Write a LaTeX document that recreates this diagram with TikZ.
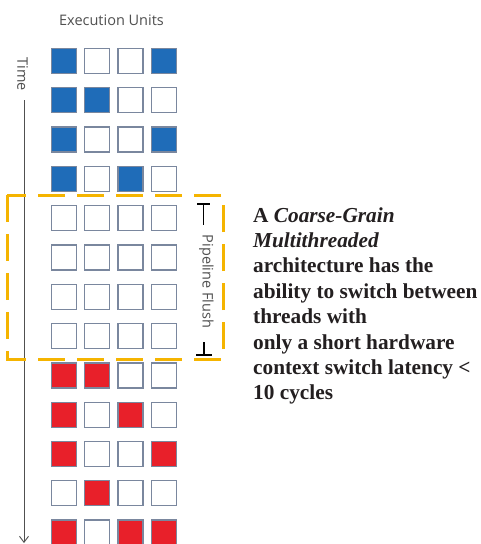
\documentclass[tikz,border=0pt]{standalone}
\usepackage{fontspec}
\setmainfont{Liberation Serif}
\newfontfamily\uifont{Open Sans}
\usetikzlibrary{arrows.meta}
\definecolor{cellblue}{HTML}{1F6CB8}
\definecolor{cellred}{HTML}{E8202A}
\definecolor{cellline}{HTML}{7A879E}
\definecolor{flushorange}{HTML}{F5B400}
\definecolor{labelgray}{HTML}{505050}
\definecolor{bodytext}{HTML}{231F20}
\begin{document}
\begin{tikzpicture}[x=1pt,y=-1pt,
  cell/.style={draw=cellline, line width=1.3pt, minimum size=25pt, inner sep=0pt},
  ui/.style={font=\uifont\fontsize{14.5}{17}\selectfont, text=labelgray, inner sep=0pt},
  body/.style={font=\fontsize{21.3}{25}\selectfont\bfseries, text=bodytext, anchor=base west, inner sep=0pt},
  bracket/.style={draw=black, line width=1.5pt},
  timeline/.style={draw=labelgray, line width=0.9pt, -{Straight Barb[length=6pt,width=9pt]}},
  flushbox/.style={draw=flushorange, line width=3pt, dash pattern=on 27pt off 12pt}]
\fill[white] (0,0) rectangle (481,544);
\clip (0,0) rectangle (481,544);
% title
\node[ui, anchor=base] (eu) at (111.5,25.7) {Execution Units};
% time axis
\node[ui, rotate=-90] (time) at (22.5,74) {Time};
\coordinate (tstart) at (24,100);
\coordinate (tend) at (24,543);
\draw[timeline] (tstart) -- (tend);
% cells
\foreach \r/\a/\b/\c/\d in {
  0/cellblue/white/white/cellblue,
  1/cellblue/cellblue/white/white,
  2/cellblue/white/white/cellblue,
  3/cellblue/white/cellblue/white,
  4/white/white/white/white,
  5/white/white/white/white,
  6/white/white/white/white,
  7/white/white/white/white,
  8/cellred/cellred/white/white,
  9/cellred/white/cellred/white,
  10/cellred/white/white/cellred,
  11/white/cellred/white/white,
  12/cellred/white/cellred/cellred}{
  \foreach \col/\f in {0/\a,1/\b,2/\c,3/\d}{
    \node[cell, fill=\f] (c\r-\col) at ({63.7+33.33*\col},{61+39.3*\r}) {};
  }
}
% pipeline flush box
\draw[flushbox] (7,195) rectangle (223,359);
% bracket
\coordinate (tl) at (197,204);
\coordinate (tr) at (210,204);
\coordinate (ts) at (203.5,204);
\coordinate (te) at (203.5,225);
\coordinate (bs) at (204,342);
\coordinate (be) at (204,355);
\coordinate (bl) at (196,355);
\coordinate (br) at (212,355);
\draw[bracket] (tl) -- (tr) (ts) -- (te);
\draw[bracket] (bs) -- (be) (bl) -- (br);
\node[ui, rotate=-90] (flush) at (206.5,281.5) {Pipeline Flush};
% description
\node[body] (l1) at (253,222) {A \textit{Coarse-Grain}};
\node[body] (l2) at (253,247.4) {\textit{Multithreaded}};
\node[body] (l3) at (253,272.8) {architecture has the};
\node[body] (l4) at (253,298.2) {ability to switch between};
\node[body] (l5) at (253,323.6) {threads with};
\node[body] (l6) at (253,349) {only a short hardware};
\node[body] (l7) at (253,374.4) {context switch latency <};
\node[body] (l8) at (253,399.8) {10 cycles};
\end{tikzpicture}
\end{document}
